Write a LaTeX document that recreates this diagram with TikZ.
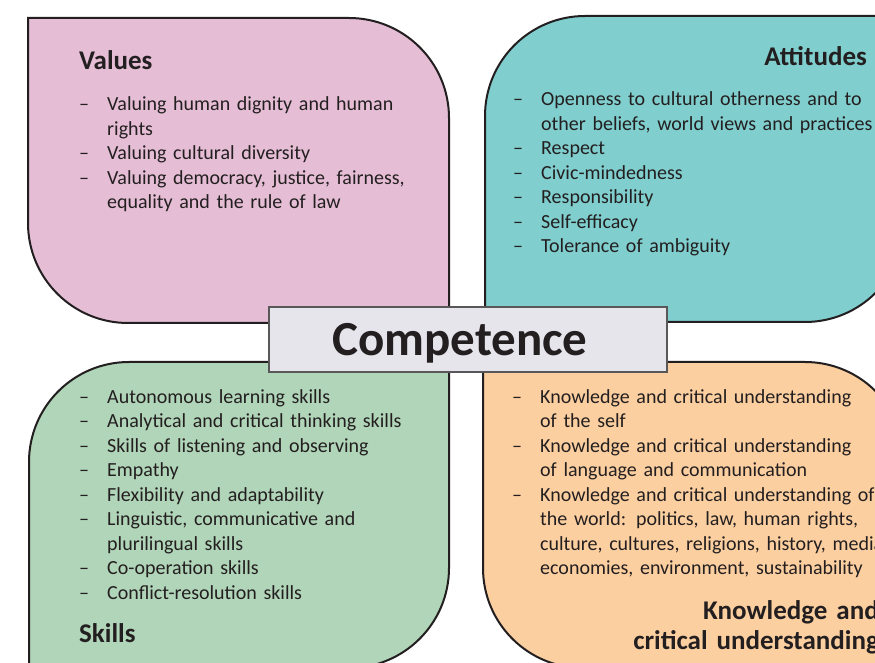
\documentclass[tikz,border=0pt]{standalone}
\usepackage{fontspec}
\setmainfont{Carlito}
\usetikzlibrary{positioning}

\definecolor{valuespink}{HTML}{E5BED5}
\definecolor{attitudesteal}{HTML}{80CECE}
\definecolor{skillsgreen}{HTML}{B1D5B8}
\definecolor{knowledgeorange}{HTML}{FCCFA0}
\definecolor{centregrey}{HTML}{E6E5EC}
\definecolor{inkdark}{HTML}{231F20}

% one dash entry with a hanging second line
\newcommand{\dashitem}[1]{\noindent\hangindent=28pt\hangafter=1\makebox[28pt][l]{--}#1\par}

\begin{document}
\begin{tikzpicture}[x=1pt, y=1pt, text=inkdark,
    frame/.style={draw=inkdark, line width=2pt},
    head/.style={font=\bfseries\fontsize{27}{30}\selectfont, inner sep=0pt},
    itemlist/.style={font=\fontsize{20}{24.5}\selectfont, text width=#1, align=left,
                     inner sep=0pt, anchor=base west}]
    \useasboundingbox (0,0) rectangle (875,662);
    \clip (0,0) rectangle (875,662);

    % the four fields
    \draw[frame, fill=valuespink] (28,644) -- (349,644) arc[start angle=90, end angle=0, radius=100]
        -- (449,339) -- (128,339) arc[start angle=270, end angle=180, radius=100] -- cycle;
    \draw[frame, fill=attitudesteal] (485,546) arc[start angle=180, end angle=90, radius=100]
        -- (905,646) -- (905,440) arc[start angle=0, end angle=-90, radius=100] -- (485,340) -- cycle;
    \draw[frame, fill=skillsgreen] (29,-6) -- (29,200) arc[start angle=180, end angle=90, radius=100]
        -- (449,300) -- (449,94) arc[start angle=0, end angle=-90, radius=100] -- cycle;
    \draw[frame, fill=knowledgeorange] (483,300) -- (805,300) arc[start angle=90, end angle=0, radius=100]
        -- (905,-6) -- (583,-6) arc[start angle=270, end angle=180, radius=100] -- cycle;

    % headings
    \node[head, anchor=base west] (valueshead) at (79,592) {Values};
    \node[head, anchor=base east] (attitudeshead) at (867,596.5) {Attitudes};
    \node[head, anchor=base west] (skillshead) at (79,20) {Skills};
    \node[head, anchor=base east, text width=350pt, align=right] (knowledgehead) at (879,43)
        {Knowledge and\\critical understanding};

    % lists
    \node[itemlist=370pt] (valueslist) at (79,551) {%
        \dashitem{Valuing human dignity and human\newline rights}
        \dashitem{Valuing cultural diversity}
        \dashitem{Valuing democracy, justice, fairness,\newline equality and the rule of law}};
    \node[itemlist=420pt] (attitudeslist) at (513,556) {%
        \dashitem{Openness to cultural otherness and to\newline other beliefs, world views and practices}
        \dashitem{Respect}
        \dashitem{Civic-mindedness}
        \dashitem{Responsibility}
        \dashitem{Self-efficacy}
        \dashitem{Tolerance of ambiguity}};
    \node[itemlist=370pt] (skillslist) at (79,259) {%
        \dashitem{Autonomous learning skills}
        \dashitem{Analytical and critical thinking skills}
        \dashitem{Skills of listening and observing}
        \dashitem{Empathy}
        \dashitem{Flexibility and adaptability}
        \dashitem{Linguistic, communicative and\newline plurilingual skills}
        \dashitem{Co-operation skills}
        \dashitem{Conflict-resolution skills}};
    \node[itemlist=420pt] (knowledgelist) at (512,259) {%
        \dashitem{Knowledge and critical understanding\newline of the self}
        \dashitem{Knowledge and critical understanding\newline of language and communication}
        \dashitem{Knowledge and critical understanding of\newline the world: politics, law, human rights,\newline
            culture, cultures, religions, history, media,\newline economies, environment, sustainability}};

    % centre label
    \node[draw=inkdark!75, line width=1.2pt, fill=centregrey, minimum width=398pt, minimum height=65pt,
          text height=43pt, text depth=10pt,
          font=\bfseries\fontsize{49}{55}\selectfont] (competence) at (468,322.5) {\hspace*{-16pt}Competence};
\end{tikzpicture}
\end{document}
